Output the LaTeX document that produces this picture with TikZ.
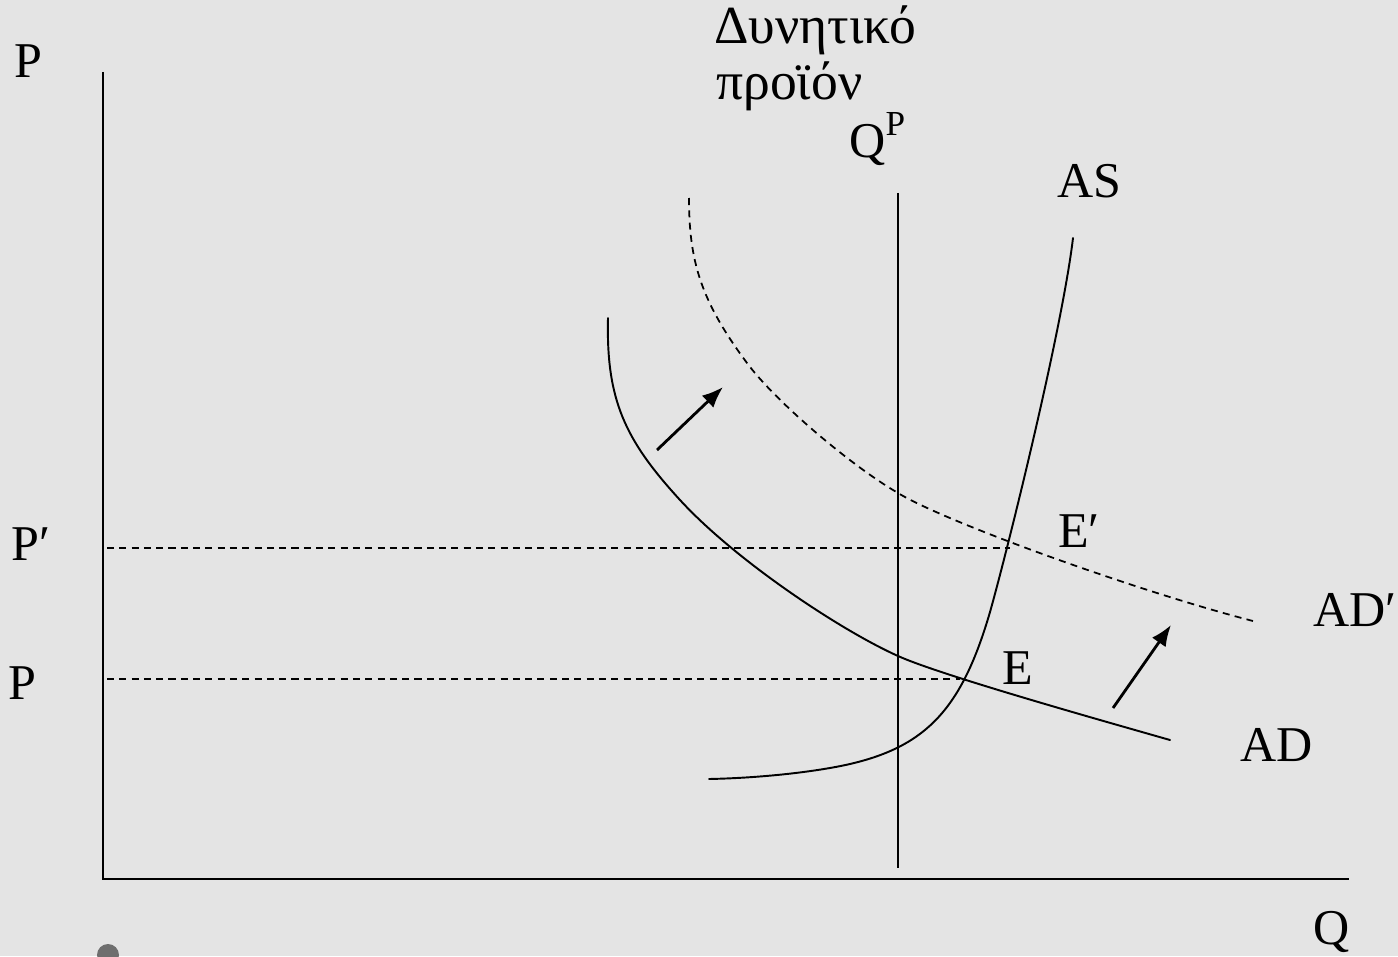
\documentclass[tikz,border=0pt]{standalone}
\usepackage{fontspec}
\setmainfont{Liberation Serif}
\usetikzlibrary{arrows.meta}
\definecolor{bgcol}{RGB}{228,228,228}
\definecolor{dotcol}{RGB}{110,110,110}
\begin{document}
\begin{tikzpicture}[x=0.02cm,y=-0.02cm,
  curve/.style={line width=1.1pt,line cap=round},
  axis/.style={line width=1.1pt},
  dashline/.style={line width=1pt,dash pattern=on 4pt off 3pt},
  shiftarrow/.style={line width=1.6pt,-{Latex[length=12pt,width=9.5pt]}},
  lbl/.style={inner sep=0pt,anchor=base west,font=\fontsize{28.5}{33}\selectfont},
  grk/.style={inner sep=0pt,anchor=base west,font=\fontsize{30.5}{35}\selectfont}]
\fill[bgcol] (0,0) rectangle (1398,956);
\useasboundingbox (0,0) rectangle (1398,956);
\fill[dotcol] (108,955) circle (11);
% axes
\coordinate (O) at (103,879);
\coordinate (ytop) at (103,72);
\coordinate (xend) at (1349,879);
\draw[axis] (ytop) -- (O) -- (xend);
% potential output line
\coordinate (qptop) at (898,193);
\coordinate (qpbot) at (898,868);
\draw[axis] (qptop) -- (qpbot);
% equilibria
\coordinate (E) at (960,679);
\coordinate (Ep) at (1010,548);
\coordinate (pl) at (107,679);
\coordinate (ppl) at (107,548);
\draw[dashline] (pl) -- (E);
\draw[dashline] (ppl) -- (Ep);
% AS
\draw[curve] (709,779) .. controls (760,778) and (815,772) .. (850,764)
  .. controls (927,746) and (962,708) .. (990,612)
  .. controls (1008,548) and (1062,330) .. (1073,238);
% AD
\draw[curve] (608,318) .. controls (606,400) and (625,440) .. (680,500)
  .. controls (735,560) and (840,630) .. (898,656)
  .. controls (940,675) and (1100,720) .. (1170,740);
% AD'
\draw[dashline] (689,198) .. controls (689,260) and (700,300) .. (747,363)
  .. controls (775,401) and (850,465) .. (898,493)
  .. controls (945,522) and (1140,592) .. (1253,621);
% shift arrows
\coordinate (a1s) at (657,450);
\coordinate (a1e) at (723,387);
\coordinate (a2s) at (1113,708);
\coordinate (a2e) at (1171,625);
\draw[shiftarrow] (a1s) -- (a1e);
\draw[shiftarrow] (a2s) -- (a2e);
% labels
\node[lbl] (Ptop) at (14,78) {P};
\node[lbl] (Pprime) at (11,560) {P′};
\node[lbl] (Plow) at (8,699) {P};
\node[lbl] (Qlab) at (1313,944) {Q};
\node[lbl] (ADlab) at (1240,761) {AD};
\node[lbl] (ADplab) at (1313,626) {AD′};
\node[lbl] (Elab) at (1002,684) {E};
\node[lbl] (Eplab) at (1058,547) {E′};
\node[lbl] (ASlab) at (1057,197) {AS};
\node[lbl] (QPlab) at (849,158) {Q\raisebox{0.45em}{\fontsize{20}{23}\selectfont P}};
\node[grk] (dyn) at (714,44) {Δυνητικό};
\node[grk] (proion) at (716,100) {προϊόν};
\end{tikzpicture}
\end{document}
